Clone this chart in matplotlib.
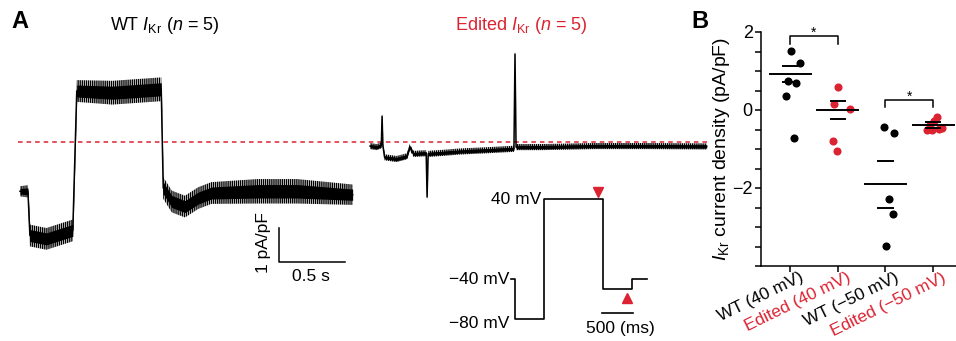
import numpy as np
import matplotlib
matplotlib.use('Agg')
import matplotlib.pyplot as plt
import matplotlib.transforms as mtransforms

plt.rcParams['font.family'] = ['Liberation Sans', 'DejaVu Sans']
plt.rcParams['mathtext.fontset'] = 'custom'
plt.rcParams['mathtext.rm'] = 'Liberation Sans'
plt.rcParams['mathtext.it'] = 'Liberation Sans:italic'
plt.rcParams['mathtext.bf'] = 'Liberation Sans:bold'
plt.rcParams['hatch.linewidth'] = 1.0

RED = '#dc2332'

# ---- panel A: averaged I_Kr traces (time s, current pA/pF)
wt_t = [0.00, 0.06, 0.075, 0.20, 0.40, 0.43, 0.70, 1.07, 1.085, 1.15, 1.25, 1.35, 1.45, 1.80, 2.10, 2.52]
wt_i = [-1.45, -1.45, -2.75, -2.85, -2.60, 1.50, 1.45, 1.55, -1.35, -1.75, -1.90, -1.65, -1.50, -1.45, -1.45, -1.55]
# noise half-width of the trace (pA/pF)
wt_noise = [0.15, 0.18, 0.32, 0.32, 0.32, 0.32, 0.35, 0.35, 0.32, 0.32, 0.32, 0.32, 0.32, 0.36, 0.36, 0.30]

ed_t = [0.00, 0.05, 0.085, 0.091, 0.097, 0.11, 0.20, 0.28, 0.30, 0.33, 0.425, 0.432, 0.44, 0.55, 0.68, 0.90, 1.09, 1.098, 1.106, 1.30, 1.70, 2.10, 2.55]
ed_i = [-0.12, -0.15, -0.10, 0.76, -0.10, -0.45, -0.50, -0.42, -0.15, -0.35, -0.33, -1.62, -0.35, -0.32, -0.28, -0.24, -0.20, 2.59, -0.15, -0.15, -0.12, -0.12, -0.13]
ed_noise = [0.09] * len(ed_t)

# voltage protocol (ms, mV)
prot_t = [0, 60, 60, 530, 530, 1480, 1480, 1950, 1950, 2200]
prot_v = [-40, -40, -80, -80, 40, 40, -50, -50, -40, -40]
mark_t = [1403, 1871]
mark_v = [47, -59]

# ---- panel B: current density (pA/pF)
groups = ['WT (40 mV)', 'Edited (40 mV)', 'WT (\u221250 mV)', 'Edited (\u221250 mV)']
group_colors = ['black', RED, 'black', RED]
wt40 = [1.51, 1.21, 0.74, 0.70, 0.36, -0.71]
ed40 = [0.60, 0.15, 0.02, -0.80, -1.04]
wt50 = [-0.43, -0.60, -2.28, -2.66, -3.49]
ed50 = [-0.18, -0.28, -0.38, -0.45, -0.48, -0.50, -0.52]
wt40_dx = [0.015, 0.21, -0.035, 0.125, -0.085, 0.085]
ed40_dx = [0.006, -0.084, 0.25, -0.11, -0.015]
wt50_dx = [-0.02, 0.17, 0.08, 0.16, 0.02]
ed50_dx = [0.08, 0.02, -0.06, 0.18, 0.13, -0.13, -0.03]
means = [0.92, 0.00, -1.90, -0.39]
sems = [0.20, 0.24, 0.60, 0.07]

W, H = 956, 341
fig = plt.figure(figsize=(W / 100, H / 100), dpi=100)

# traces axes, whole figure, 132 px per s, 34 px per pA/pF
ax = fig.add_axes([0, 0, 1, 1])
ax.set_axis_off()
ax.set_xlim((0 - 20) / 132, (W - 20) / 132)
ax.set_ylim((142 - H) / 34, 142 / 34)

ed_off = 2.652
ax.plot([-0.015, 5.22], [0, 0], color=RED, lw=1.1, dashes=(3, 2.6), zorder=1)


def noisy_trace(t, i, noise):
    t = np.asarray(t)
    i = np.asarray(i)
    noise = np.asarray(noise)
    # outer, spiky part of the noise drawn as dense vertical hatching
    ax.fill_between(t, i - noise, i + noise, facecolor='none', edgecolor='black',
                    hatch='||||||||', lw=0, zorder=2)
    # dense core of the noise band
    ax.fill_between(t, i - 0.55 * noise, i + 0.55 * noise, color='black', lw=0, zorder=2)
    ax.plot(t, i, color='black', lw=1.1, zorder=2)


noisy_trace(wt_t, wt_i, wt_noise)
noisy_trace(np.array(ed_t) + ed_off, ed_i, ed_noise)

# scale bar 1 pA/pF, 0.5 s
ax.plot([1.962, 1.962, 2.462], [-2.53, -3.53, -3.53], color='black', lw=1.1)
ax.text(1.848, -2.97, '1 pA/pF', rotation=90, ha='center', va='center', fontsize=12.5)
ax.text(2.205, -3.97, '0.5 s', ha='center', va='center', fontsize=12.5)

# protocol axes, 0.062 px per ms, 1 px per mV
axp = fig.add_axes([0, 0, 1, 1])
axp.set_axis_off()
axp.set_xlim((0 - 511) / 0.062, (W - 511) / 0.062)
axp.set_ylim(40 - (H - 199), 40 + 199)
axp.plot(prot_t, prot_v, color='black', lw=1.2)
axp.plot(mark_t[0], mark_v[0], marker='v', color=RED, ms=7, ls='none')
axp.plot(mark_t[1], mark_v[1], marker='^', color=RED, ms=7, ls='none')
axp.plot([1468, 1968], [-74, -74], color='black', lw=1.2)
axp.text(1760, -90, '500 (ms)', ha='center', va='center', fontsize=12.5)
axp.text(480, 39, '40 mV', ha='right', va='center', fontsize=12.5)
axp.text(-20, -41, '\u221240 mV', ha='right', va='center', fontsize=12.5)
axp.text(-20, -84, '\u221280 mV', ha='right', va='center', fontsize=12.5)

fig.text(165 / W, 1 - 25 / H, r'WT $I_{\mathrm{Kr}}$ ($n$ = 5)', ha='center', va='center', fontsize=13)
fig.text(521 / W, 1 - 25 / H, r'Edited $I_{\mathrm{Kr}}$ ($n$ = 5)', ha='center', va='center',
         fontsize=13, color=RED)
fig.text(20 / W, 1 - 21 / H, 'A', ha='center', va='center', fontsize=17, fontweight='bold')
fig.text(700 / W, 1 - 21 / H, 'B', ha='center', va='center', fontsize=17, fontweight='bold')

# ---- panel B
axb = fig.add_axes([761 / W, 75 / H, 195 / W, 234 / H])
axb.set_facecolor('none')
axb.set_xlim(-0.61, 3.48)
axb.set_ylim(-4, 2)
for s in ['top', 'right']:
    axb.spines[s].set_visible(False)
for s in ['left', 'bottom']:
    axb.spines[s].set_linewidth(1.1)

pts = [(wt40, wt40_dx), (ed40, ed40_dx), (wt50, wt50_dx), (ed50, ed50_dx)]
for k, (vals, dx) in enumerate(pts):
    axb.scatter(k + np.array(dx), vals, s=34, color=group_colors[k], lw=0, zorder=3, clip_on=False)
    axb.plot([k - 0.43, k + 0.43], [means[k], means[k]], color='black', lw=1.4, zorder=4)
    for sgn in (1, -1):
        yv = means[k] + sgn * sems[k]
        axb.plot([k - 0.15, k + 0.15], [yv, yv], color='black', lw=1.4, zorder=4)

# significance brackets
axb.plot([0, 0, 1, 1], [1.69, 1.90, 1.90, 1.69], color='black', lw=1.1, clip_on=False)
axb.text(0.5, 1.97, '*', ha='center', va='center', fontsize=10)
axb.plot([2, 2, 3, 3], [0.08, 0.26, 0.26, 0.08], color='black', lw=1.1, clip_on=False)
axb.text(2.5, 0.34, '*', ha='center', va='center', fontsize=10)

axb.set_yticks([-2, 0, 2])
axb.set_yticklabels(['\u22122', '0', '2'])
axb.set_yticks(np.arange(-4, 2.01, 0.5), minor=True)
axb.tick_params(axis='y', which='both', length=4, width=1.1, labelsize=13, pad=2)
axb.set_xticks(range(4))
axb.set_xticklabels(groups, rotation=26, ha='right', va='top', rotation_mode='anchor', fontsize=12.5)
axb.tick_params(axis='x', length=4, width=1.1, pad=1)
shift = mtransforms.ScaledTranslation(9 / 100, 3 / 100, fig.dpi_scale_trans)
for lab, c in zip(axb.get_xticklabels(), group_colors):
    lab.set_color(c)
    lab.set_transform(lab.get_transform() + shift)
axb.set_ylabel(r'$I_{\mathrm{Kr}}$ current density (pA/pF)', fontsize=14, labelpad=0)

fig.savefig('out.png', dpi=100)
